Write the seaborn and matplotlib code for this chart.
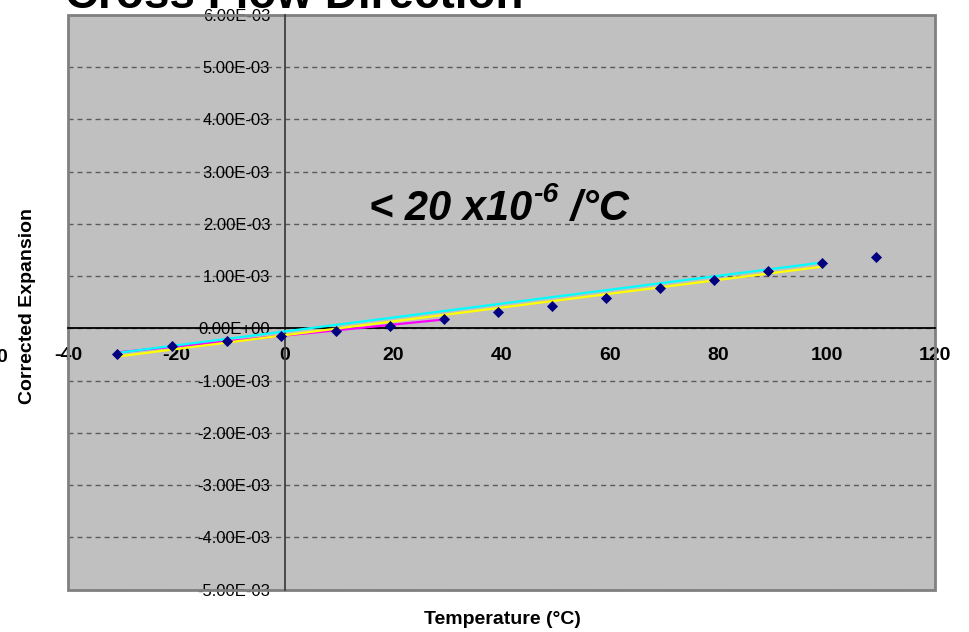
import numpy as np
import pandas as pd
import matplotlib
matplotlib.use("Agg")
import matplotlib.pyplot as plt
import seaborn as sns
from matplotlib.patches import Rectangle
from matplotlib.transforms import offset_copy

# ---------------- data ----------------
temperature = [-30.9, -20.8, -10.7, -0.6, 9.4, 19.4, 29.4, 39.4, 49.3, 59.3,
               69.3, 79.2, 89.2, 99.1, 109.1]
expansion = [-0.49e-3, -0.33e-3, -0.24e-3, -0.14e-3, -0.05e-3, 0.05e-3,
             0.177e-3, 0.304e-3, 0.43e-3, 0.589e-3, 0.766e-3, 0.93e-3,
             1.095e-3, 1.259e-3, 1.361e-3]

fit_magenta_x = [-30.9, 29.4]
fit_magenta_y = [-0.46e-3, 0.17e-3]
fit_cyan_x = [-30.9, 99.1]
fit_cyan_y = [-0.47e-3, 1.26e-3]
fit_yellow_x = [-30.9, 99.1]
fit_yellow_y = [-0.54e-3, 1.18e-3]

xtick_values = [-40, -20, 0, 20, 40, 60, 80, 100, 120]
xtick_labels = ["-40", "-20", "0", "20", "40", "60", "80", "100", "120"]
ytick_values = [-5e-3, -4e-3, -3e-3, -2e-3, -1e-3, 0.0, 1e-3, 2e-3, 3e-3, 4e-3, 5e-3, 6e-3]
ytick_labels = ["-5.00E-03", "-4.00E-03", "-3.00E-03", "-2.00E-03", "-1.00E-03",
                "0.00E+00", "1.00E-03", "2.00E-03", "3.00E-03", "4.00E-03",
                "5.00E-03", "6.00E-03"]

title = "Cross Flow Direction"
xlabel = "Temperature (°C)"
ylabel = "Corrected Expansion"
annot_main = "< 20 x10"
annot_sup = "-6"
annot_tail = " /°C"

# ---------------- style ----------------
sns.set_style("white")
plt.rcParams["font.family"] = ["Liberation Sans", "DejaVu Sans"]
for k in ["text.color", "axes.labelcolor", "xtick.color", "ytick.color"]:
    plt.rcParams[k] = "black"

W, H = 969, 632
fig = plt.figure(figsize=(W / 100, H / 100), dpi=100)
left, right, top, bottom = 68, 935, 15, 589.5
ax = fig.add_axes([left / W, 1 - bottom / H, (right - left) / W, (bottom - top) / H])
ax.set_facecolor("#C0C0C0")

df = pd.DataFrame({"t": temperature, "e": expansion})

sns.lineplot(x=fit_magenta_x, y=fit_magenta_y, color="#FF00FF", lw=1.6,
             ax=ax, sort=False, estimator=None, zorder=3)
sns.lineplot(x=fit_cyan_x, y=fit_cyan_y, color="#00FFFF", lw=1.6,
             ax=ax, sort=False, estimator=None, zorder=3)
sns.lineplot(x=fit_yellow_x, y=fit_yellow_y, color="#FFFF00", lw=1.6,
             ax=ax, sort=False, estimator=None, zorder=3)
sns.scatterplot(data=df, x="t", y="e", marker="D", s=32, color="#000080",
                linewidth=0, ax=ax, zorder=4)

ax.set_xlim(-40, 120)
ax.set_ylim(-5e-3, 6e-3)
ax.set_xlabel("")
ax.set_ylabel("")

ax.yaxis.grid(True, linestyle=(0, (3.6, 2.9)), color="#5A5A5A", lw=1.0)
ax.xaxis.grid(False)
ax.set_axisbelow(True)

for s in ["top", "right"]:
    ax.spines[s].set_visible(False)
ax.spines["left"].set_position(("data", 0))
ax.spines["bottom"].set_position(("data", 0))
ax.spines["left"].set_color("#404040")
ax.spines["left"].set_linewidth(1.3)
ax.spines["bottom"].set_color("black")
ax.spines["bottom"].set_linewidth(1.3)
ax.spines["left"].set_zorder(2.5)
ax.spines["bottom"].set_zorder(2.5)

ax.tick_params(axis="x", direction="out", length=4.5, width=1, color="black",
               pad=9, labelsize=14)
ax.tick_params(axis="y", direction="out", length=4.5, width=1, color="#404040",
               pad=6, labelsize=12)

ax.set_xticks(xtick_values)
ax.set_xticklabels(xtick_labels)
ax.set_yticks(ytick_values)
ax.set_yticklabels(ytick_labels)
for lab in ax.get_xticklabels():
    lab.set_fontweight("bold")

frame = Rectangle((0, 0), 1, 1, transform=ax.transAxes, fill=False,
                  edgecolor="#808080", lw=2, clip_on=False, zorder=1.5)
ax.add_patch(frame)

# annotation with real hyphen superscript
afs = 30
t1 = ax.text(15.5, 2.07e-3, annot_main, fontsize=afs, fontweight="bold",
             fontstyle="italic", va="baseline", ha="left", zorder=5)
fig.canvas.draw()
r = fig.canvas.get_renderer()
bb = t1.get_window_extent(renderer=r)
inv = ax.transData.inverted()
x_end_data = inv.transform((bb.x1, bb.y0))[0]
tr_sup = offset_copy(ax.transData, fig=fig, x=1, y=13.5, units="points")
t2 = ax.text(x_end_data, 2.07e-3, annot_sup, fontsize=afs * 0.68, fontweight="bold",
             fontstyle="italic", va="baseline", ha="left", zorder=5, transform=tr_sup)
fig.canvas.draw()
bb2 = t2.get_window_extent(renderer=r)
x_end2 = inv.transform((bb2.x1, bb2.y0))[0]
ax.text(x_end2, 2.07e-3, annot_tail, fontsize=afs, fontweight="bold",
        fontstyle="italic", va="baseline", ha="left", zorder=5)

fig.text(65 / W, 1 - 8 / H, title, ha="left", va="baseline",
         fontsize=33, fontweight="bold")
fig.text(28 / W, 1 - 306 / H, ylabel, rotation=90, ha="center", va="center",
         fontsize=14, fontweight="bold")
fig.text(502 / W, 1 - 620 / H, xlabel, ha="center", va="center",
         fontsize=14, fontweight="bold")
fig.text(7 / W, 1 - 358 / H, "0", ha="right", va="center",
         fontsize=14, fontweight="bold")

fig.savefig("out.png", dpi=100)
